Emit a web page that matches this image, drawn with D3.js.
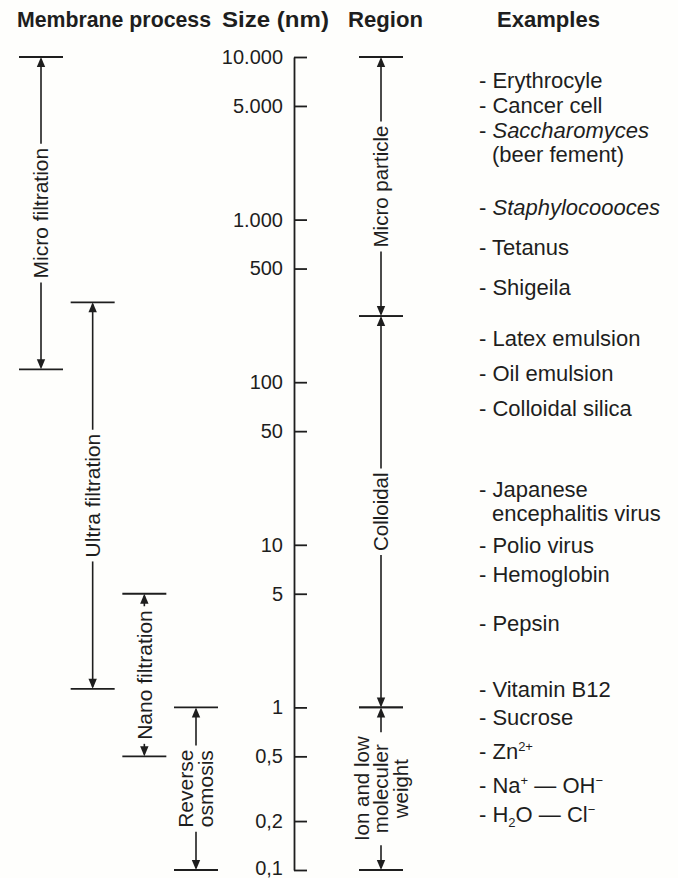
<!DOCTYPE html>
<html><head><meta charset="utf-8">
<script src="https://cdn.jsdelivr.net/npm/d3@7"></script>
<style>
html,body{margin:0;padding:0;background:#fefefc;}
svg{display:block;}
text{font-family:"Liberation Sans",Arial,Helvetica,sans-serif;fill:#1e1e1e;}
</style></head>
<body><svg id="chart" width="678" height="878"></svg>
<script>
// ---------- data ----------
const headers = ["Membrane process", "Size (nm)", "Region", "Examples"];

const sizeTicks = [10000, 5000, 1000, 500, 100, 50, 10, 5, 1, 0.5, 0.2, 0.1];
const tickLabels = ["10.000", "5.000", "1.000", "500", "100", "50", "10", "5", "1", "0,5", "0,2", "0,1"];

const processNames = [["Micro filtration"], ["Ultra filtration"], ["Nano filtration"], ["Reverse", "osmosis"]];
const processTop = [10000, 310, 5, 1];
const processBottom = [120, 1.3, 0.5, 0.1];

const regionNames = [["Micro particle"], ["Colloidal"], ["Ion and low", "moleculer", "weight"]];
const regionTop = [10000, 255, 1];
const regionBottom = [255, 1, 0.1];

const exampleLabels = [
  "- Erythrocyle", "- Cancer cell", "- *Saccharomyces*|(beer fement)", "- *Staphylocoooces*",
  "- Tetanus", "- Shigeila", "- Latex emulsion", "- Oil emulsion", "- Colloidal silica",
  "- Japanese|encephalitis virus", "- Polio virus", "- Hemoglobin", "- Pepsin",
  "- Vitamin B12", "- Sucrose", "- Zn^{2+}", "- Na^{+} — OH^{−}", "- H_{2}O — Cl^{−}"
];
const exampleSizes = [7220, 5070, 3557, 1195, 678, 385, 187, 114, 69, 22, 10, 6.6, 3.3, 1.3, 0.87, 0.54, 0.33, 0.22];

// ---------- layout ----------
const svg = d3.select("#chart");
const ink = "#1e1e1e";
const y = d3.scaleLog().domain([10000, 0.1]).range([57, 870]);
const axisX = 294;
const procX = d3.scalePoint().domain(d3.range(processNames.length)).range([41, 196]);
const regionX = 381;
const barHalf = 22;

// headers
const headerX = [17, 222, 348, 497];
const headerW = [194, 107, 75, 103];
svg.selectAll("text.hdr").data(headers).join("text").attr("class", "hdr")
  .attr("x", (d, i) => headerX[i]).attr("y", 27)
  .attr("textLength", (d, i) => headerW[i]).attr("lengthAdjust", "spacingAndGlyphs")
  .attr("font-size", 22).attr("font-weight", "bold").text(d => d);

// size axis
const axis = d3.axisLeft(y).tickValues(sizeTicks)
  .tickFormat((d, i) => tickLabels[i]).tickSizeInner(-13).tickSizeOuter(0).tickPadding(11);
const ag = svg.append("g").attr("transform", `translate(${axisX},0)`).call(axis);
ag.attr("font-size", null).attr("font-family", null);
ag.select(".domain").attr("stroke", ink).attr("stroke-width", 1.8);
ag.selectAll(".tick line").attr("stroke", ink).attr("stroke-width", 1.8);
ag.selectAll(".tick text").attr("font-size", 20).attr("fill", ink)
  .attr("dy", (d, i) => i === sizeTicks.length - 1 ? "0.2em" : "0.32em");

// range arrows with rotated labels
function rangeMarker(g, cx, topV, botV, lines, fs) {
  const yt = y(topV), yb = y(botV);
  g.append("line").attr("x1", cx - barHalf).attr("x2", cx + barHalf).attr("y1", yt).attr("y2", yt)
    .attr("stroke", ink).attr("stroke-width", 1.8);
  g.append("line").attr("x1", cx - barHalf).attr("x2", cx + barHalf).attr("y1", yb).attr("y2", yb)
    .attr("stroke", ink).attr("stroke-width", 1.8);
  const ah = 10, aw = 4.2;
  g.append("path").attr("d", `M${cx},${yt}L${cx - aw},${yt + ah}L${cx + aw},${yt + ah}Z`).attr("fill", ink);
  g.append("path").attr("d", `M${cx},${yb}L${cx - aw},${yb - ah}L${cx + aw},${yb - ah}Z`).attr("fill", ink);
  const my = (yt + yb) / 2;
  const lh = fs * 0.95;
  const n = lines.length;
  const t = g.append("text").attr("font-size", fs).attr("text-anchor", "middle")
    .attr("transform", `translate(${cx},${my}) rotate(-90)`);
  lines.forEach((l, i) => {
    t.append("tspan").attr("x", 0).attr("y", (i - (n - 1) / 2) * lh).attr("dy", "0.35em").text(l);
  });
  let len = 0;
  t.selectAll("tspan").each(function () { len = Math.max(len, this.getComputedTextLength()); });
  const gap = 4;
  g.append("line").attr("x1", cx).attr("x2", cx).attr("y1", yt + 2).attr("y2", my - len / 2 - gap)
    .attr("stroke", ink).attr("stroke-width", 1.6);
  g.append("line").attr("x1", cx).attr("x2", cx).attr("y1", my + len / 2 + gap).attr("y2", yb - 2)
    .attr("stroke", ink).attr("stroke-width", 1.6);
}

const pg = svg.append("g");
processNames.forEach((nm, i) => rangeMarker(pg, procX(i), processTop[i], processBottom[i], nm, 21));
const rg = svg.append("g");
regionNames.forEach((nm, i) => rangeMarker(rg, regionX, regionTop[i], regionBottom[i], nm, 20.5));

// examples
const exX = 479, exIndent = 492, exLine = 24;
const eg = svg.append("g").attr("font-size", 22);
exampleLabels.forEach((lab, i) => {
  const lines = lab.split("|");
  lines.forEach((ln, j) => {
    const t = eg.append("text").attr("x", j === 0 ? exX : exIndent)
      .attr("y", y(exampleSizes[i]) + j * exLine).attr("dy", "0.35em");
    const parts = ln.split(/(\*[^*]+\*|\^\{[^}]+\}|_\{[^}]+\})/).filter(s => s.length);
    let shift = 0;
    parts.forEach(p => {
      const s = t.append("tspan");
      if (p.startsWith("*")) {
        s.attr("font-style", "italic").text(p.slice(1, -1));
        if (shift) { s.attr("dy", -shift); shift = 0; }
      } else if (p.startsWith("^{")) {
        s.attr("font-size", 13).attr("dy", -8 - shift).text(p.slice(2, -1)); shift = -8;
      } else if (p.startsWith("_{")) {
        s.attr("font-size", 13).attr("dy", 5 - shift).text(p.slice(2, -1)); shift = 5;
      } else {
        s.text(p);
        if (shift) { s.attr("dy", -shift); shift = 0; }
      }
    });
  });
});
</script></body></html>
